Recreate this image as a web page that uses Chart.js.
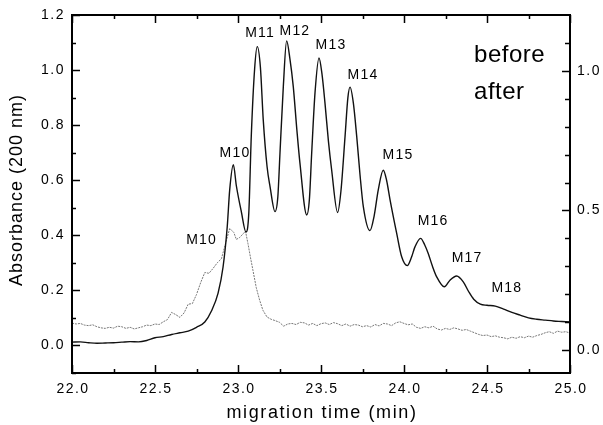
<!DOCTYPE html>
<html>
<head>
<meta charset="utf-8">
<script src="https://cdn.jsdelivr.net/npm/chart.js@4.4.0/dist/chart.umd.min.js"></script>
<style>
    body { margin: 0; background: #fff; }
</style>
</head>
<body>
<canvas id="lineChart" width="603" height="425"></canvas>
<script>
// "before" trace (solid), migration time in min / absorbance
const beforeTime = [22.00, 22.05, 22.10, 22.15, 22.20, 22.25, 22.30, 22.35, 22.40, 22.45,
    22.50, 22.55, 22.60, 22.65, 22.70, 22.75, 22.80, 22.84, 22.88, 22.91, 22.935, 22.95,
    22.972, 22.99, 23.02, 23.048, 23.065, 23.08, 23.10, 23.116, 23.135, 23.152, 23.175, 23.193,
    23.223, 23.24, 23.253, 23.273, 23.293, 23.313, 23.333, 23.355, 23.373, 23.414, 23.43,
    23.444, 23.464, 23.488, 23.506, 23.524, 23.545, 23.564, 23.60, 23.62, 23.645, 23.662,
    23.675, 23.695, 23.715, 23.735, 23.755, 23.795, 23.82, 23.845, 23.875, 23.895, 23.916,
    23.956, 23.986, 24.02, 24.045, 24.066, 24.10, 24.125, 24.146, 24.17, 24.197, 24.243,
    24.277, 24.317, 24.357, 24.39, 24.42, 24.46, 24.50, 24.55, 24.60, 24.65, 24.70, 24.75,
    24.80, 24.85, 24.90, 24.95, 25.00];
const beforeAbs = [0.012, 0.013, 0.010, 0.008, 0.009, 0.010, 0.012, 0.014, 0.013, 0.018,
    0.028, 0.032, 0.040, 0.046, 0.052, 0.066, 0.085, 0.125, 0.190, 0.285, 0.430, 0.565,
    0.656, 0.580, 0.486, 0.412, 0.480, 0.760, 1.003, 1.085, 1.010, 0.820, 0.650, 0.577,
    0.486, 0.540, 0.700, 0.940, 1.106, 1.040, 0.940, 0.780, 0.663, 0.474, 0.530,
    0.700, 0.918, 1.044, 0.985, 0.880, 0.740, 0.638, 0.483, 0.560, 0.760, 0.900,
    0.938, 0.880, 0.760, 0.620, 0.504, 0.417, 0.470, 0.565, 0.636, 0.600, 0.529,
    0.407, 0.322, 0.290, 0.320, 0.358, 0.389, 0.365, 0.334, 0.290, 0.249, 0.213,
    0.237, 0.252, 0.231, 0.195, 0.168, 0.150, 0.146, 0.143, 0.132, 0.120, 0.110, 0.100,
    0.095, 0.092, 0.089, 0.087, 0.085];

// "after" trace (dotted, noisy)
const afterTime = [22.000, 22.025, 22.050, 22.075, 22.100, 22.125, 22.150, 22.175, 22.200, 22.225,
    22.250, 22.275, 22.300, 22.325, 22.350, 22.375, 22.400, 22.425, 22.450, 22.475,
    22.500, 22.525, 22.550, 22.575, 22.600, 22.625, 22.650, 22.675, 22.700, 22.725,
    22.750, 22.775, 22.800, 22.825, 22.850, 22.875, 22.900, 22.925, 22.950, 22.975,
    22.990, 23.010, 23.030, 23.045, 23.060, 23.075, 23.090, 23.110, 23.130, 23.150,
    23.175, 23.200, 23.225, 23.250, 23.275, 23.300, 23.325, 23.350, 23.375, 23.400,
    23.425, 23.450, 23.475, 23.500, 23.525, 23.550, 23.575, 23.600, 23.625, 23.650,
    23.675, 23.700, 23.725, 23.750, 23.775, 23.800, 23.825, 23.850, 23.875, 23.900,
    23.925, 23.950, 23.975, 24.000, 24.025, 24.050, 24.075, 24.100, 24.125, 24.150,
    24.175, 24.200, 24.225, 24.250, 24.275, 24.300, 24.325, 24.350, 24.375, 24.400,
    24.425, 24.450, 24.475, 24.500, 24.525, 24.550, 24.575, 24.600, 24.625, 24.650,
    24.675, 24.700, 24.725, 24.750, 24.775, 24.800, 24.825, 24.850, 24.875, 24.900,
    24.925, 24.950, 24.975, 25.000];
const afterAbs = [0.081, 0.078, 0.080, 0.074, 0.072, 0.075, 0.068, 0.064, 0.062, 0.066,
    0.063, 0.070, 0.068, 0.062, 0.066, 0.060, 0.064, 0.068, 0.074, 0.072,
    0.078, 0.076, 0.086, 0.094, 0.120, 0.112, 0.102, 0.118, 0.150, 0.152,
    0.185, 0.228, 0.265, 0.262, 0.280, 0.300, 0.315, 0.370, 0.425, 0.410,
    0.385, 0.392, 0.405, 0.415, 0.370, 0.320, 0.273, 0.210, 0.165, 0.128,
    0.103, 0.095, 0.090, 0.084, 0.070, 0.078, 0.080, 0.076, 0.084, 0.082,
    0.074, 0.080, 0.072, 0.079, 0.082, 0.076, 0.083, 0.079, 0.072, 0.078,
    0.070, 0.076, 0.074, 0.068, 0.072, 0.067, 0.076, 0.071, 0.080, 0.078,
    0.072, 0.082, 0.086, 0.080, 0.075, 0.078, 0.066, 0.062, 0.068, 0.064,
    0.070, 0.060, 0.056, 0.062, 0.058, 0.064, 0.060, 0.055, 0.058, 0.052,
    0.046, 0.040, 0.036, 0.038, 0.032, 0.035, 0.030, 0.028, 0.024, 0.030,
    0.026, 0.032, 0.028, 0.034, 0.030, 0.036, 0.040, 0.046, 0.050, 0.044,
    0.052, 0.048, 0.050, 0.045];

// axis ticks
const xTicks = [22.0, 22.5, 23.0, 23.5, 24.0, 24.5, 25.0];
const leftTicks = [0.0, 0.2, 0.4, 0.6, 0.8, 1.0, 1.2];
const rightTicks = [0.0, 0.5, 1.0];

// peak names and where they sit (in data units)
const peakNames = ['M10', 'M10', 'M11', 'M12', 'M13', 'M14', 'M15', 'M16', 'M17', 'M18'];
const peakLabelX = [22.982, 22.781, 23.133, 23.343, 23.56, 23.753, 23.964, 24.175, 24.38, 24.62];
const peakLabelY = [0.699, 0.383, 1.135, 1.142, 1.091, 0.982, 0.692, 0.452, 0.318, 0.209];

const fontName = '"Liberation Sans", Arial, sans-serif';

function toPoints(xs, ys) {
    return xs.map(function (x, i) {
        return { x: x, y: ys[i] };
    });
}

//Draw frame, inward ticks, labels and titles by hand
const axesPlugin = {
    id: 'axesPlugin',
    afterDraw(chart) {
        const c = chart.ctx;
        const a = chart.chartArea;
        const xs = chart.scales.x, ys = chart.scales.y, ys2 = chart.scales.y2;
        c.save();
        c.strokeStyle = '#000';
        c.fillStyle = '#000';

        // x ticks, bottom and top
        c.lineWidth = 1.5;
        for (let i = 0; i <= 12; i++) {
            const v = 22 + i * 0.25;
            const px = Math.round(xs.getPixelForValue(v)) + 0.5;
            const len = i % 2 === 0 ? 8 : 4;
            c.beginPath();
            c.moveTo(px, a.bottom); c.lineTo(px, a.bottom - len);
            c.moveTo(px, a.top); c.lineTo(px, a.top + len);
            c.stroke();
        }
        // left ticks
        for (let i = -1; i <= 12; i++) {
            const v = i * 0.1;
            const py = Math.round(ys.getPixelForValue(v)) + 0.5;
            const len = i % 2 === 0 ? 8 : 4;
            c.beginPath();
            c.moveTo(a.left, py); c.lineTo(a.left + len, py);
            c.stroke();
        }
        // right ticks
        for (let i = 0; i <= 11; i++) {
            const v = i * 0.1;
            const py = Math.round(ys2.getPixelForValue(v)) + 0.5;
            const len = i % 5 === 0 ? 8 : 5;
            c.beginPath();
            c.moveTo(a.right, py); c.lineTo(a.right - len, py);
            c.stroke();
        }

        // frame
        c.lineWidth = 2;
        c.strokeRect(a.left, a.top, a.right - a.left, a.bottom - a.top);

        // tick labels
        c.font = '14px ' + fontName;
        c.letterSpacing = '1.5px';
        c.textBaseline = 'middle';
        c.textAlign = 'center';
        for (const v of xTicks) {
            c.fillText(v.toFixed(1), xs.getPixelForValue(v) + 1, a.bottom + 16);
        }
        c.textAlign = 'right';
        for (const v of leftTicks) {
            c.fillText(v.toFixed(1), a.left - 7, ys.getPixelForValue(v));
        }
        c.textAlign = 'left';
        for (const v of rightTicks) {
            c.fillText(v.toFixed(1), a.right + 7, ys2.getPixelForValue(v));
        }

        // axis titles
        c.font = '18px ' + fontName;
        c.letterSpacing = '1.6px';
        c.textAlign = 'center';
        c.fillText('migration time (min)', (a.left + a.right) / 2 + 1, 413);
        c.save();
        c.translate(17, 190);
        c.rotate(-Math.PI / 2);
        c.letterSpacing = '1px';
        c.fillText('Absorbance (200 nm)', 0, 0);
        c.restore();

        // peak names
        c.font = '14px ' + fontName;
        c.letterSpacing = '1.2px';
        c.textAlign = 'center';
        peakNames.forEach(function (name, i) {
            c.fillText(name, xs.getPixelForValue(peakLabelX[i]), ys.getPixelForValue(peakLabelY[i]));
        });

        // series names
        c.font = '24px ' + fontName;
        c.letterSpacing = '0.5px';
        c.textAlign = 'left';
        c.fillText('before', xs.getPixelForValue(24.422), ys.getPixelForValue(1.055));
        c.fillText('after', xs.getPixelForValue(24.422), ys.getPixelForValue(0.92));
        c.restore();
    }
};

let ctx = document.getElementById('lineChart').getContext('2d');

let chart = new Chart(ctx, {
    type: 'line',
    data: {
        datasets: [{
            label: 'before',
            data: toPoints(beforeTime, beforeAbs),
            borderColor: '#111',
            borderWidth: 1.4,
            pointRadius: 0,
            cubicInterpolationMode: 'monotone'
        }, {
            label: 'after',
            data: toPoints(afterTime, afterAbs),
            borderColor: '#777',
            borderWidth: 1,
            borderDash: [2, 1],
            pointRadius: 0,
            tension: 0
        }]
    },
    options: {
        responsive: false,
        animation: false,
        layout: { padding: { left: 72, top: 15, right: 33, bottom: 52 } },
        plugins: {
            legend: { display: false },
            tooltip: { enabled: false }
        },
        scales: {
            x: {
                type: 'linear', min: 22, max: 25,
                display: false
            },
            y: {
                min: -0.1, max: 1.2,
                display: false
            },
            y2: {
                position: 'right',
                min: -0.082, max: 1.2,
                display: false
            }
        }
    },
    plugins: [axesPlugin]
});
</script>
</body>
</html>
